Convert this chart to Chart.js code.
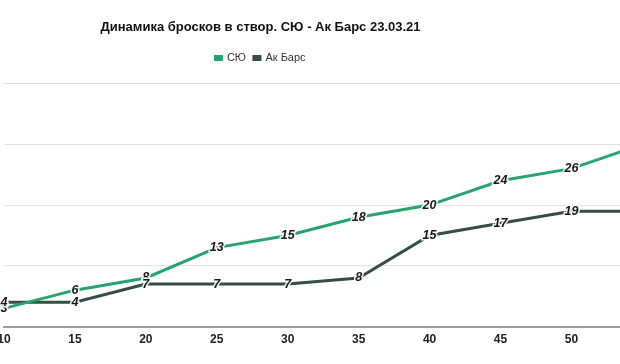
<!DOCTYPE html>
<html>
<head>
<meta charset="utf-8">
<script src="https://cdn.jsdelivr.net/npm/chart.js@4/dist/chart.umd.min.js"></script>
<style>
  html, body { margin: 0; padding: 0; background: #fff; }
  #view { position: absolute; left: 0; top: 0; width: 620px; height: 364px; overflow: hidden; }
  #wrap { position: absolute; left: -134px; top: 0; width: 789px; height: 364px; }
</style>
</head>
<body>
<div id="view"><div id="wrap"><canvas id="c" width="789" height="364"></canvas></div></div>
<script>
const titleText = 'Динамика бросков в створ. СЮ - Ак Барс 23.03.21';
const minutes = ['10', '15', '20', '25', '30', '35', '40', '45', '50', '55'];
const syuShots = [3, 6, 8, 13, 15, 18, 20, 24, 26, 30];
const akBarsShots = [4, 4, 7, 7, 7, 8, 15, 17, 19, 19];
const seriesNames = ['СЮ', 'Ак Барс'];
const yTicks = [0, 10, 20, 30, 40];

const legendGap = {
  id: 'legendGap',
  beforeInit(chart) {
    const lg = chart.legend;
    if (!lg) return;
    const orig = lg.fit;
    lg.fit = function () { orig.call(this); this.height += 10; };
  }
};

const pointLabels = {
  id: 'pointLabels',
  afterDatasetsDraw(chart) {
    const ctx = chart.ctx;
    ctx.save();
    ctx.font = 'italic 600 12.5px "Liberation Sans", Arial, sans-serif';
    ctx.textAlign = 'center';
    ctx.textBaseline = 'middle';
    chart.data.datasets.forEach((ds, i) => {
      const meta = chart.getDatasetMeta(i);
      meta.data.forEach((pt, j) => {
        const t = String(ds.data[j]);
        ctx.lineWidth = 3;
        ctx.strokeStyle = 'rgba(255,255,255,0.9)';
        ctx.strokeText(t, pt.x, pt.y);
        ctx.fillStyle = '#1a1a1a';
        ctx.fillText(t, pt.x, pt.y);
      });
    });
    ctx.restore();
  }
};

new Chart(document.getElementById('c'), {
  type: 'line',
  data: {
    labels: minutes,
    datasets: [
      { label: seriesNames[0], data: syuShots, borderColor: '#27a46e', backgroundColor: '#3fb584', borderWidth: 3, pointRadius: 0, tension: 0 },
      { label: seriesNames[1], data: akBarsShots, borderColor: '#344e41', backgroundColor: '#344e41', borderWidth: 3, pointRadius: 0, tension: 0 }
    ]
  },
  options: {
    responsive: false,
    animation: false,
    layout: { padding: { left: 0, right: 0, top: 0, bottom: 11 } },
    plugins: {
      title: {
        display: true, text: titleText, color: '#111',
        font: { family: '"Liberation Sans", Arial, sans-serif', size: 13, weight: 'bold' },
        padding: { top: 20, bottom: 9 }
      },
      legend: {
        display: true,
        labels: {
          color: '#333', boxWidth: 6, boxHeight: 3,
          font: { family: '"Liberation Sans", Arial, sans-serif', size: 11 },
          padding: 8
        }
      },
      tooltip: { enabled: false }
    },
    scales: {
      x: {
        offset: false,
        grid: { display: false, drawTicks: false },
        border: { display: true, color: '#9a9a9a', width: 2 },
        ticks: { color: '#222', font: { family: '"Liberation Sans", Arial, sans-serif', size: 12, weight: 'bold' }, padding: 6, maxRotation: 0 }
      },
      y: {
        min: 0, max: 40,
        afterBuildTicks: (axis) => { axis.ticks = yTicks.map(v => ({ value: v })); },
        afterFit: (axis) => { axis.width = 138; },
        ticks: { display: false },
        grid: { color: '#e2e2e2', lineWidth: 1, drawTicks: false },
        border: { display: false }
      }
    }
  },
  plugins: [legendGap, pointLabels]
});
</script>
</body>
</html>
